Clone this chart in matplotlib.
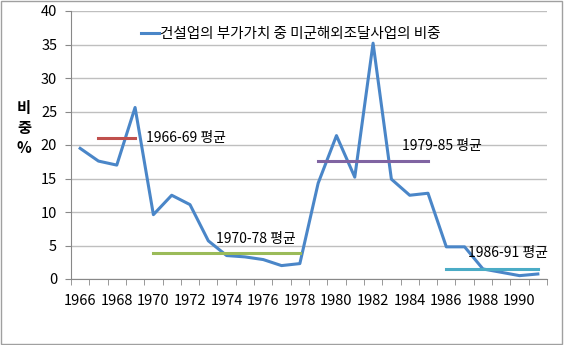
import matplotlib
matplotlib.use('Agg')
from matplotlib import pyplot as plt
import numpy as np

# 데이터
years = list(range(1966, 1992))
share = [19.5, 17.6, 17.0, 25.6, 9.6, 12.5, 11.1, 5.7, 3.5, 3.3,
         2.9, 2.0, 2.3, 14.3, 21.4, 15.2, 35.2, 14.9, 12.5, 12.8,
         4.8, 4.8, 1.5, 1.0, 0.5, 0.75]
avg_labels = ['1966-69 평균', '1970-78 평균', '1979-85 평균', '1986-91 평균']
avg_start = [1967, 1970, 1979, 1986]
avg_end = [1969, 1978, 1985, 1991]
avg_values = [21.0, 3.85, 17.6, 1.45]
avg_colors = ['#C0504D', '#9BBB59', '#8064A2', '#4BACC6']
legend_label = '건설업의 부가가치 중 미군해외조달사업의 비중'

plt.rcParams['font.family'] = ['Noto Sans CJK KR', 'DejaVu Sans']
plt.rcParams['font.size'] = 10.5

fig = plt.figure(figsize=(5.64, 3.45), dpi=100)
ax = fig.add_axes([71/564, 1-279/345, (547-71)/564, (279-11)/345])

x = np.arange(len(years))
ax.plot(x, share, color='#4A86C8', lw=2.2, label=legend_label)

for lab, a, b, v, c in zip(avg_labels, avg_start, avg_end, avg_values, avg_colors):
    i0 = years.index(a)
    i1 = years.index(b)
    ax.plot([i0, i1], [v, v], color=c, lw=2.2)

# 평균 라벨
ax.text(years.index(1969) + 0.6, avg_values[0], avg_labels[0], va='center', ha='left', fontsize=10)
ax.text(years.index(1973) + 0.4, 5.9, avg_labels[1], va='center', ha='left', fontsize=10)
ax.text(years.index(1983) + 0.6, 19.9, avg_labels[2], va='center', ha='left', fontsize=10)
ax.text(years.index(1987) + 0.2, 3.9, avg_labels[3], va='center', ha='left', fontsize=10)

ax.set_xlim(-0.5, len(years) - 0.5)
ax.set_ylim(0, 40)
ax.set_yticks(np.arange(0, 41, 5))
ax.set_xticks(x[::2])
ax.set_xticklabels([str(y) for y in years[::2]])
ax.set_xticks(np.arange(-0.5, len(years), 1), minor=True)
ax.tick_params(axis='x', which='major', length=0, pad=11)
ax.tick_params(axis='x', which='minor', length=4, color='#888888')
ax.tick_params(axis='y', length=4, color='#888888', pad=6)
ax.grid(axis='y', color='#BFBFBF', lw=1)
ax.set_axisbelow(True)
for s in ['top', 'right']:
    ax.spines[s].set_visible(False)
ax.spines['left'].set_color('#888888')
ax.spines['bottom'].set_color('#888888')

fig.text(24/564, 1-128/345, '비\n중\n%', ha='center', va='center', fontsize=11,
         fontweight='bold', linespacing=1.3)

ax.legend(loc='upper left', bbox_to_anchor=(0.12, 0.99), frameon=False,
          handlelength=1.2, handletextpad=0.1, fontsize=10.5)

# 차트 테두리
fig.patches.append(plt.Rectangle((0.002, 0.003), 0.995, 0.993, transform=fig.transFigure,
                                 fill=False, edgecolor='#A0A0A0', lw=1))

plt.savefig('out.png', dpi=100)
